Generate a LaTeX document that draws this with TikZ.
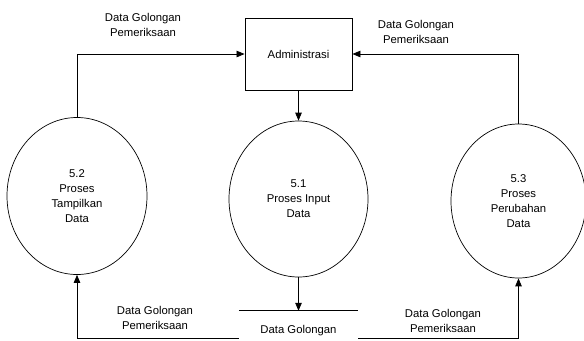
\documentclass[tikz,border=0pt]{standalone}
\usepackage{fontspec}
\setmainfont{Liberation Sans}
\usetikzlibrary{shapes.geometric,arrows.meta}

\begin{document}
\begin{tikzpicture}[x=1bp, y=-1bp,
  every node/.style={font=\fontsize{11.3bp}{15bp}\selectfont, align=center},
  process/.style={draw, ellipse, line width=0.7bp, inner sep=0pt},
  entity/.style={draw, line width=0.9bp, minimum width=107bp, minimum height=72bp, inner sep=0pt},
  flow/.style={line width=0.8bp, -{Triangle[length=8bp,width=6.5bp]}},
  flowlabel/.style={inner sep=0pt}
]
  \useasboundingbox (0,0) rectangle (584,340);

  % external entity
  \node[entity] (admin) at (298.5,54) {Administrasi};

  % processes
  \node[process, minimum width=140bp, minimum height=157bp] (p52) at (77,196)
    {5.2\\Proses\\Tampilkan\\Data};
  \node[process, minimum width=139bp, minimum height=156bp] (p51) at (298.5,199)
    {5.1\\Proses Input\\Data};
  \node[process, minimum width=135bp, minimum height=154bp] (p53) at (518.5,201)
    {5.3\\Proses\\Perubahan\\Data};

  % data store: open store drawn as a single top line
  \node[minimum width=119bp, minimum height=27.5bp, inner sep=0pt] (store) at (298.5,324.75) {};
  \draw[line width=0.8bp] (store.north west) -- (store.north east);
  \node[flowlabel] (storelbl) at (298.5,331) {Data Golongan};

  % data flows
  \draw[flow] (p52.north) |- (admin.west);
  \draw[flow] (p53.north) |- (admin.east);
  \draw[flow] (admin.south) -- (p51.north);
  \draw[flow] (p51.south) -- (store.north);
  \draw[flow] (store.south west) -| (p52.south);
  \draw[flow] (store.south east) -| (p53.south);

  % flow labels
  \node[flowlabel] (ltop) at (143,25) {Data Golongan\\Pemeriksaan};
  \node[flowlabel] (rtop) at (416,32) {Data Golongan\\Pemeriksaan};
  \node[flowlabel] (lbot) at (155,318) {Data Golongan\\Pemeriksaan};
  \node[flowlabel] (rbot) at (443,320.5) {Data Golongan\\Pemeriksaan};
\end{tikzpicture}
\end{document}
